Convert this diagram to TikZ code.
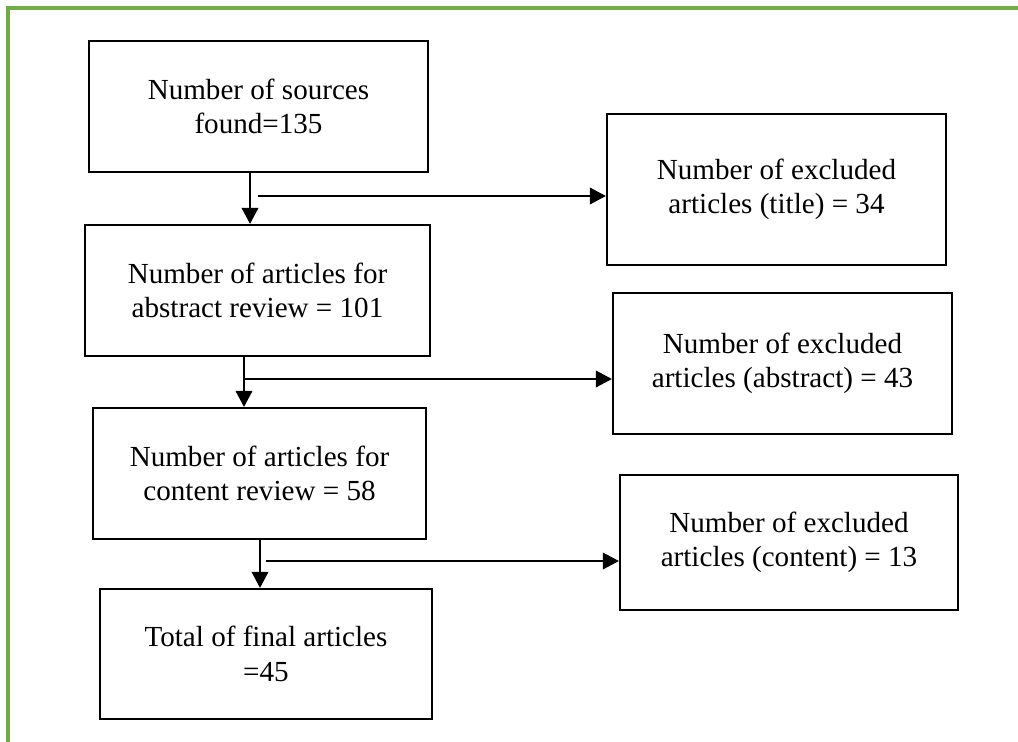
\documentclass[tikz,border=0pt]{standalone}
\usepackage{fontspec}
\setmainfont{Liberation Serif}
\usetikzlibrary{arrows.meta,positioning}
\definecolor{framegreen}{RGB}{112,173,71}

\begin{document}
\begin{tikzpicture}[x=0.025cm,y=-0.025cm,>={Triangle[length=0.4cm,width=0.42cm]},
  box/.style={draw,line width=1.6pt,align=center,inner sep=0pt,font=\fontsize{20.7}{24.5}\selectfont},
  flow/.style={->,line width=0.8pt}]
  \useasboundingbox (0,0) rectangle (1018,742);
  \draw[line width=2.4pt,framegreen] (8,742) -- (8,8) -- (1018,8);

  % main column
  \node [box,minimum width=8.475cm,minimum height=3.275cm] (0) at (258.5,106.5) {Number of sources\\found=135};
  \node [box,minimum width=8.625cm,minimum height=3.275cm] (1) at (257.5,290.5) {Number of articles for\\abstract review = 101};
  \node [box,minimum width=8.325cm,minimum height=3.275cm] (2) at (259.5,473.5) {Number of articles for\\content review = 58};
  \node [box,minimum width=8.3cm,minimum height=3.25cm] (3) at (266,654) {Total of final articles\\=45};

  % excluded
  \node [box,minimum width=8.475cm,minimum height=3.775cm] (4) at (776.5,189.5) {Number of excluded\\articles (title) = 34};
  \node [box,minimum width=8.475cm,minimum height=3.525cm] (5) at (782.5,363.5) {Number of excluded\\articles (abstract) = 43};
  \node [box,minimum width=8.45cm,minimum height=3.375cm] (6) at (789,542.5) {Number of excluded\\articles (content) = 13};

  \coordinate (v1) at (250,0);
  \coordinate (v2) at (244,0);
  \coordinate (v3) at (260,0);
  \coordinate (h1) at (258,196);
  \coordinate (h2) at (244,379);
  \coordinate (h3) at (266,561);

  \draw[flow] (0.south -| v1) -- (1.north -| v1);
  \draw[flow] (1.south -| v2) -- (2.north -| v2);
  \draw[flow] (2.south -| v3) -- (3.north -| v3);

  \draw[flow] (h1) -- (h1 -| 4.west);
  \draw[flow] (h2) -- (h2 -| 5.west);
  \draw[flow] (h3) -- (h3 -| 6.west);
\end{tikzpicture}
\end{document}
